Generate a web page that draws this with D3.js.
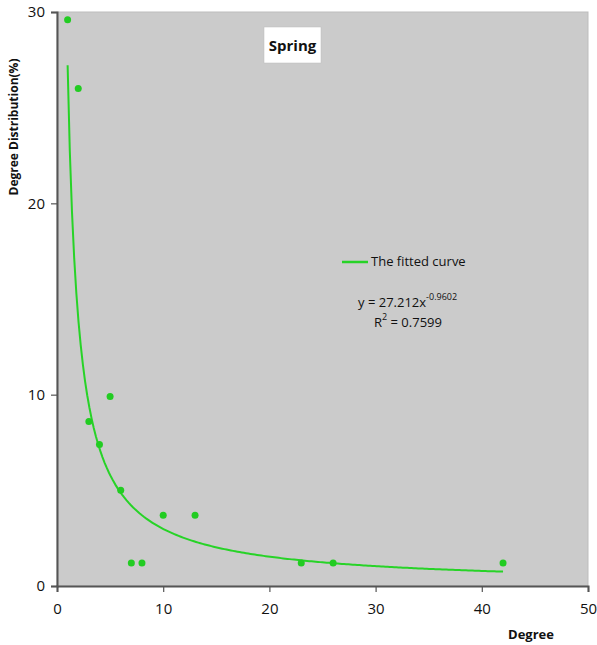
<!DOCTYPE html>
<html>
<head>
<meta charset="utf-8">
<script src="https://cdnjs.cloudflare.com/ajax/libs/d3/7.8.5/d3.min.js"></script>
<style>
  body { margin: 0; background: #fff; }
  text { font-family: "Open Sans", "Liberation Sans", sans-serif; fill: #111; }
</style>
</head>
<body>
<div id="chart"></div>
<script>
// observed points
var degrees = [1, 2, 3, 4, 5, 6, 7, 8, 10, 13, 23, 26, 42];
var distribution = [29.6, 26.0, 8.6, 7.4, 9.9, 5.0, 1.2, 1.2, 3.7, 3.7, 1.2, 1.2, 1.2];
var xTicks = [0, 10, 20, 30, 40, 50];
var yTicks = [0, 10, 20, 30];
// power fit from the chart label
var fitA = 27.212, fitB = -0.9602, fitR2 = 0.7599;
var fitRange = [1, 42];

var margin = {top: 12, right: 9, bottom: 59, left: 57},
    width = 597 - margin.left - margin.right,
    height = 645 - margin.top - margin.bottom;

var svg = d3.select("#chart").append("svg")
    .attr("width", 597)
    .attr("height", 645);
var g = svg.append("g")
    .attr("transform", "translate(" + margin.left + "," + margin.top + ")");

var x = d3.scaleLinear().domain([0, 50]).range([0, width]);
var y = d3.scaleLinear().domain([0, 30]).range([height, 0]);

g.append("rect")
    .attr("width", width)
    .attr("height", height)
    .attr("fill", "#cbcbcb")
    .attr("stroke", "#bdbdbd");

var xAxis = g.append("g")
    .attr("transform", "translate(0," + height + ")")
    .call(d3.axisBottom(x).tickValues(xTicks).tickSize(6).tickPadding(11));
var yAxis = g.append("g")
    .call(d3.axisLeft(y).tickValues(yTicks).tickSize(6).tickPadding(6));
[xAxis, yAxis].forEach(function (a) {
    a.select(".domain").attr("stroke", "#555").attr("stroke-width", 2);
    a.selectAll(".tick line").attr("stroke", "#555").attr("stroke-width", 1.2);
    a.selectAll("text").style("font-size", "15px").attr("fill", "#111");
});

// fitted curve
var curveData = d3.range(0, 201).map(function (i) {
    var xv = fitRange[0] + (fitRange[1] - fitRange[0]) * i / 200;
    return [xv, fitA * Math.pow(xv, fitB)];
});
g.append("path")
    .datum(curveData)
    .attr("fill", "none")
    .attr("stroke", "#27d327")
    .attr("stroke-width", 2)
    .attr("d", d3.line()
        .x(function (d) { return x(d[0]); })
        .y(function (d) { return y(d[1]); }));

g.selectAll(".dot")
    .data(degrees)
    .enter().append("circle")
    .attr("class", "dot")
    .attr("cx", function (d) { return x(d); })
    .attr("cy", function (d, i) { return y(distribution[i]); })
    .attr("r", 3.5)
    .attr("fill", "#22cc22");

// title box
svg.append("rect")
    .attr("x", 264).attr("y", 27)
    .attr("width", 57).attr("height", 36)
    .attr("fill", "#fff")
    .attr("stroke", "#bbb").attr("stroke-width", 0.5);
svg.append("text")
    .attr("x", 292.5).attr("y", 51)
    .style("text-anchor", "middle")
    .style("font-size", "15px")
    .style("font-weight", "bold")
    .text("Spring");

// legend
svg.append("line")
    .attr("x1", 342).attr("x2", 368)
    .attr("y1", 262).attr("y2", 262)
    .attr("stroke", "#27d327").attr("stroke-width", 2.5);
svg.append("text")
    .attr("x", 371).attr("y", 266)
    .style("font-size", "13px")
    .text("The fitted curve");

var eq = svg.append("text")
    .attr("x", 358).attr("y", 307)
    .style("font-size", "13px");
eq.append("tspan").text("y = " + fitA + "x");
eq.append("tspan").attr("dy", -7).style("font-size", "9px").text(fitB);

var r2 = svg.append("text")
    .attr("x", 374).attr("y", 327)
    .style("font-size", "13px");
r2.append("tspan").text("R");
r2.append("tspan").attr("dy", -7).style("font-size", "9px").text("2");
r2.append("tspan").attr("dy", 7).text(" = " + fitR2);

// axis titles
svg.append("text")
    .attr("x", 531).attr("y", 639)
    .style("text-anchor", "middle")
    .style("font-size", "13px")
    .style("font-weight", "bold")
    .text("Degree");
svg.append("text")
    .attr("transform", "translate(18,127) rotate(-90)")
    .style("text-anchor", "middle")
    .style("font-size", "12px")
    .style("font-weight", "bold")
    .text("Degree Distribution(%)");
</script>
</body>
</html>
